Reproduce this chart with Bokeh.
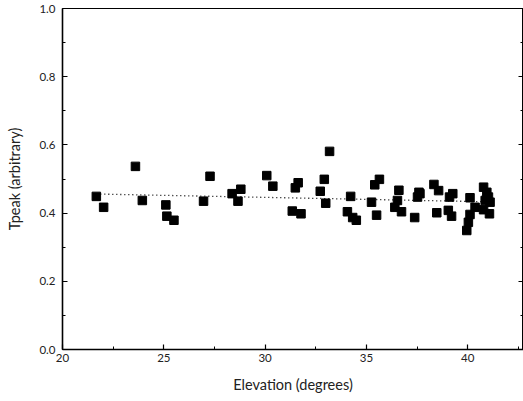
from bokeh.plotting import figure
from bokeh.models import LinearAxis, NumeralTickFormatter, FixedTicker, Range1d
from bokeh.embed import file_html
from bokeh.resources import INLINE

elevation = [21.67, 22.03, 23.6, 23.94, 25.1, 25.15, 25.5,
             26.96, 27.28, 28.37, 28.8, 28.66, 30.08, 30.38, 31.49, 31.63, 31.34, 31.77,
             33.18, 32.92, 32.72, 32.99, 34.22, 34.06, 34.32, 34.5, 35.64, 35.41, 35.25, 35.5,
             36.6, 36.53, 36.4, 36.73, 37.38, 37.59, 37.52, 37.64,
             38.33, 38.56, 39.26, 39.1, 38.47, 39.04, 39.2,
             40.11, 40.36, 40.11, 40.03, 39.95,
             40.78, 40.94, 41.02, 40.86, 41.1, 40.78, 41.07]
tpeak = [0.449, 0.417, 0.537, 0.437, 0.424, 0.391, 0.379,
         0.435, 0.508, 0.457, 0.47, 0.435, 0.51, 0.479, 0.474, 0.489, 0.406, 0.398,
         0.581, 0.499, 0.464, 0.429, 0.449, 0.404, 0.387, 0.379, 0.499, 0.483, 0.432, 0.394,
         0.467, 0.437, 0.417, 0.404, 0.387, 0.461, 0.447, 0.457,
         0.484, 0.466, 0.457, 0.447, 0.401, 0.408, 0.391,
         0.445, 0.417, 0.396, 0.373, 0.349,
         0.476, 0.461, 0.447, 0.437, 0.432, 0.41, 0.398]

trend_x = [21.67, 41.1]
trend_y = [0.456, 0.433]

x_ticks = [20, 25, 30, 35, 40]
x_minor = [22.5, 27.5, 32.5, 37.5, 42.5]
y_ticks = [0.0, 0.2, 0.4, 0.6, 0.8, 1.0]
y_minor = [0.1, 0.3, 0.5, 0.7, 0.9]

FONT = "Lato"

p = figure(width=523, height=400, output_backend="svg", toolbar_location=None,
           x_range=Range1d(20, 42.75), y_range=Range1d(0, 1.0),
           min_border_left=62, min_border_right=0, min_border_top=8, min_border_bottom=51)
p.xgrid.visible = False
p.ygrid.visible = False
p.outline_line_color = "black"
p.outline_line_width = 1
p.background_fill_color = "white"
p.border_fill_color = "white"

p.line(trend_x, trend_y, line_color="black", line_width=1.3, line_dash="1 3")
p.scatter(elevation, tpeak, marker="square", size=8.5, fill_color="black", line_color="black")

for ax in (p.xaxis[0], p.yaxis[0]):
    ax.axis_line_width = 1.6
    ax.axis_line_color = "black"
    ax.major_tick_in = 5
    ax.major_tick_out = 0
    ax.minor_tick_in = 3
    ax.minor_tick_out = 0
    ax.major_tick_line_width = 1.2
    ax.major_label_text_font = FONT
    ax.major_label_text_font_size = "11.5px"
    ax.major_label_text_color = "#222222"
    ax.axis_label_text_font = FONT
    ax.axis_label_text_font_size = "14.5px"
    ax.axis_label_text_font_style = "normal"
    ax.axis_label_text_color = "#222222"

p.xaxis[0].ticker = FixedTicker(ticks=x_ticks, minor_ticks=x_minor)
p.yaxis[0].ticker = FixedTicker(ticks=y_ticks, minor_ticks=y_minor)
p.yaxis[0].formatter = NumeralTickFormatter(format="0.0")
p.xaxis[0].axis_label = "Elevation (degrees)"
p.yaxis[0].axis_label = "Tpeak (arbitrary)"
p.xaxis[0].major_label_standoff = 4
p.yaxis[0].major_label_standoff = 7
p.xaxis[0].axis_label_standoff = 11
p.yaxis[0].axis_label_standoff = 13

right = LinearAxis(ticker=FixedTicker(ticks=y_ticks, minor_ticks=y_minor),
                   major_label_overrides={t: "" for t in y_ticks},
                   major_tick_in=5, major_tick_out=0,
                   minor_tick_in=3, minor_tick_out=0, axis_line_color="black",
                   major_label_standoff=0)
p.add_layout(right, "right")

out = file_html(p, INLINE)
open("out.html", "w").write(out)
